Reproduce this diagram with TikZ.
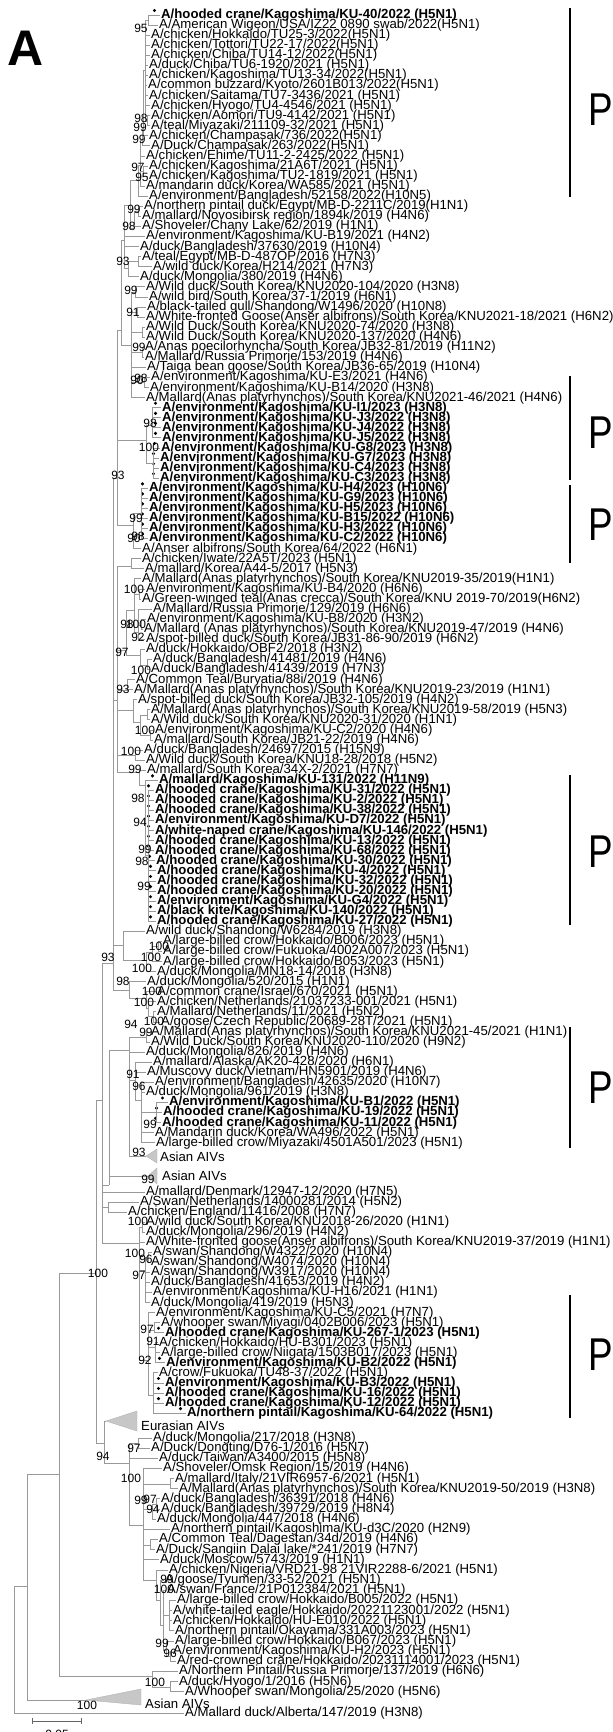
\documentclass[tikz,border=0pt]{standalone}
\usepackage{fontspec}
\setmainfont{Liberation Sans}
\usepackage{graphicx}

\begin{document}
\begin{tikzpicture}[x=1pt, y=-1pt,
    leaf/.style={anchor=west, inner sep=0pt, inner xsep=1pt, font=\fontsize{13.2}{13}\selectfont},
    kul/.style={leaf, font=\fontsize{13.2}{13}\selectfont\bfseries},
    boot/.style={inner sep=0pt, font=\fontsize{12}{12}\selectfont},
    br/.style={draw=black!40, line width=0.9pt},
    clade/.style={fill=black!22, draw=black!30, line width=0.4pt},
    bar/.style={line width=2.6pt},
    tag/.style={inner sep=0pt, font=\fontsize{46}{46}\selectfont}
  ]
  \useasboundingbox (0,0) rectangle (613,1732);

  \node[inner sep=0pt, font=\fontsize{50}{50}\selectfont\bfseries] (panel) at (26,48) {A};

  % --- taxa, top to bottom
  \node[kul] (l1) at (160,15) {A/hooded crane/Kagoshima/KU-40/2022 (H5N1)};
  \node[leaf] (l2) at (158,25.1) {A/American Wigeon/USA/IZ22 0890 swab/2022(H5N1)};
  \node[leaf] (l3) at (150,35.1) {A/chicken/Hokkaido/TU25-3/2022(H5N1)};
  \node[leaf] (l4) at (150,45.2) {A/chicken/Tottori/TU22-17/2022(H5N1)};
  \node[leaf] (l5) at (150,55.3) {A/chicken/Chiba/TU14-12/2022(H5N1)};
  \node[leaf] (l6) at (148,65.4) {A/duck/Chiba/TU6-1920/2021 (H5N1)};
  \node[leaf] (l7) at (148,75.4) {A/chicken/Kagoshima/TU13-34/2022(H5N1)};
  \node[leaf] (l8) at (147,85.5) {A/common buzzard/Kyoto/2601B013/2022(H5N1)};
  \node[leaf] (l9) at (148,95.6) {A/chicken/Saitama/TU7-3436/2021 (H5N1)};
  \node[leaf] (l10) at (150,105.6) {A/chicken/Hyogo/TU4-4546/2021 (H5N1)};
  \node[leaf] (l11) at (150,115.7) {A/chicken/Aomori/TU9-4142/2021 (H5N1)};
  \node[leaf] (l12) at (150,125.8) {A/teal/Miyazaki/211109-32/2021 (H5N1)};
  \node[leaf] (l13) at (148,135.8) {A/chicken/Champasak/736/2022(H5N1)};
  \node[leaf] (l14) at (150,145.9) {A/Duck/Champasak/263/2022(H5N1)};
  \node[leaf] (l15) at (145,156) {A/chicken/Ehime/TU11-2-2425/2022 (H5N1)};
  \node[leaf] (l16) at (148,166.1) {A/chicken/Kagoshima/21A6T/2021 (H5N1)};
  \node[leaf] (l17) at (148,176.1) {A/chicken/Kagoshima/TU2-1819/2021 (H5N1)};
  \node[leaf] (l18) at (145,186.2) {A/mandarin duck/Korea/WA585/2021 (H5N1)};
  \node[leaf] (l19) at (148,196.3) {A/environment/Bangladesh/52158/2022(H10N5)};
  \node[leaf] (l20) at (143,206.3) {A/northern pintail duck/Egypt/MB-D-2211C/2019(H1N1)};
  \node[leaf] (l21) at (141,216.4) {A/mallard/Novosibirsk region/1894k/2019 (H4N6)};
  \node[leaf] (l22) at (141,226.5) {A/Shoveler/Chany Lake/62/2019 (H1N1)};
  \node[leaf] (l23) at (145,236.5) {A/environment/Kagoshima/KU-B19/2021 (H4N2)};
  \node[leaf] (l24) at (139,246.6) {A/duck/Bangladesh/37630/2019 (H10N4)};
  \node[leaf] (l25) at (141,256.7) {A/teal/Egypt/MB-D-487OP/2016 (H7N3)};
  \node[leaf] (l26) at (152,266.8) {A/wild duck/Korea/H214/2021 (H7N3)};
  \node[leaf] (l27) at (139,276.8) {A/duck/Mongolia/380/2019 (H4N6)};
  \node[leaf] (l28) at (145,286.9) {A/Wild duck/South Korea/KNU2020-104/2020 (H3N8)};
  \node[leaf] (l29) at (148,297) {A/wild bird/South Korea/37-1/2019 (H6N1)};
  \node[leaf] (l30) at (146,307) {A/black-tailed gull/Shandong/W1496/2020 (H10N8)};
  \node[leaf] (l31) at (145,317.1) {A/White-fronted Goose(Anser albifrons)/South Korea/KNU2021-18/2021 (H6N2)};
  \node[leaf] (l32) at (145,327.2) {A/Wild Duck/South Korea/KNU2020-74/2020 (H3N8)};
  \node[leaf] (l33) at (145,337.2) {A/Wild Duck/South Korea/KNU2020-137/2020 (H4N6)};
  \node[leaf] (l34) at (144,347.3) {A/Anas poecilorhyncha/South Korea/JB32-81/2019 (H11N2)};
  \node[leaf] (l35) at (144,357.4) {A/Mallard/Russia Primorje/153/2019 (H4N6)};
  \node[leaf] (l36) at (146,367.5) {A/Taiga bean goose/South Korea/JB36-65/2019 (H10N4)};
  \node[leaf] (l37) at (150,377.5) {A/environment/Kagoshima/KU-E3/2021 (H4N6)};
  \node[leaf] (l38) at (149,387.6) {A/environment/Kagoshima/KU-B14/2020 (H3N8)};
  \node[leaf] (l39) at (145,397.7) {A/Mallard(Anas platyrhynchos)/South Korea/KNU2021-46/2021 (H4N6)};
  \node[kul] (l40) at (161,407.7) {A/environment/Kagoshima/KU-I1/2023 (H3N8)};
  \node[kul] (l41) at (161,417.8) {A/environment/Kagoshima/KU-J3/2022 (H3N8)};
  \node[kul] (l42) at (161,427.9) {A/environment/Kagoshima/KU-J4/2022 (H3N8)};
  \node[kul] (l43) at (161,437.9) {A/environment/Kagoshima/KU-J5/2022 (H3N8)};
  \node[kul] (l44) at (160,448) {A/environment/Kagoshima/KU-G8/2023 (H3N8)};
  \node[kul] (l45) at (159,458.1) {A/environment/Kagoshima/KU-G7/2023 (H3N8)};
  \node[kul] (l46) at (159,468.2) {A/environment/Kagoshima/KU-C4/2023 (H3N8)};
  \node[kul] (l47) at (159,478.2) {A/environment/Kagoshima/KU-C3/2023 (H3N8)};
  \node[kul] (l48) at (148,488.3) {A/environment/Kagoshima/KU-H4/2023 (H10N6)};
  \node[kul] (l49) at (148,498.4) {A/environment/Kagoshima/KU-G9/2023 (H10N6)};
  \node[kul] (l50) at (148,508.4) {A/environment/Kagoshima/KU-H5/2023 (H10N6)};
  \node[kul] (l51) at (148,518.5) {A/environment/Kagoshima/KU-B15/2022 (H10N6)};
  \node[kul] (l52) at (148,528.6) {A/environment/Kagoshima/KU-H3/2022 (H10N6)};
  \node[kul] (l53) at (148,538.6) {A/environment/Kagoshima/KU-C2/2022 (H10N6)};
  \node[leaf] (l54) at (141,548.7) {A/Anser albifrons/South Korea/64/2022 (H6N1)};
  \node[leaf] (l55) at (141,558.8) {A/chicken/Iwate/22A5T/2023 (H5N1)};
  \node[leaf] (l56) at (144,568.9) {A/mallard/Korea/A44-5/2017 (H5N3)};
  \node[leaf] (l57) at (141,578.9) {A/Mallard(Anas platyrhynchos)/South Korea/KNU2019-35/2019(H1N1)};
  \node[leaf] (l58) at (145,589) {A/environment/Kagoshima/KU-B4/2020 (H6N6)};
  \node[leaf] (l59) at (141,599.1) {A/Green-winged teal(Anas crecca)/South Korea/KNU 2019-70/2019(H6N2)};
  \node[leaf] (l60) at (152,609.1) {A/Mallard/Russia Primorje/129/2019 (H6N6)};
  \node[leaf] (l61) at (146,619.2) {A/environment/Kagoshima/KU-B8/2020 (H3N2)};
  \node[leaf] (l62) at (143,629.3) {A/Mallard (Anas platyrhynchos)/South Korea/KNU2019-47/2019 (H4N6)};
  \node[leaf] (l63) at (145,639.3) {A/spot-billed duck/South Korea/JB31-86-90/2019 (H6N2)};
  \node[leaf] (l64) at (145,649.4) {A/duck/Hokkaido/OBF2/2018 (H3N2)};
  \node[leaf] (l65) at (152,659.5) {A/duck/Bangladesh/41481/2019 (H4N6)};
  \node[leaf] (l66) at (150,669.5) {A/duck/Bangladesh/41439/2019 (H7N3)};
  \node[leaf] (l67) at (135,679.6) {A/Common Teal/Buryatia/88i/2019 (H4N6)};
  \node[leaf] (l68) at (133,689.7) {A/Mallard(Anas platyrhynchos)/South Korea/KNU2019-23/2019 (H1N1)};
  \node[leaf] (l69) at (137,699.8) {A/spot-billed duck/South Korea/JB32-105/2019 (H4N2)};
  \node[leaf] (l70) at (150,709.8) {A/Mallard(Anas platyrhynchos)/South Korea/KNU2019-58/2019 (H5N3)};
  \node[leaf] (l71) at (150,719.9) {A/Wild duck/South Korea/KNU2020-31/2020 (H1N1)};
  \node[leaf] (l72) at (154,730) {A/environment/Kagoshima/KU-C2/2020 (H4N6)};
  \node[leaf] (l73) at (153,740) {A/mallard/South Korea/JB21-22/2019 (H4N6)};
  \node[leaf] (l74) at (143,750.1) {A/duck/Bangladesh/24697/2015 (H15N9)};
  \node[leaf] (l75) at (145,760.2) {A/Wild duck/South Korea/KNU18-28/2018 (H5N2)};
  \node[leaf] (l76) at (146,770.2) {A/mallard/South Korea/34X-2/2021 (H7N7)};
  \node[kul] (l77) at (158,780.3) {A/mallard/Kagoshima/KU-131/2022 (H11N9)};
  \node[kul] (l78) at (154,790.4) {A/hooded crane/Kagoshima/KU-31/2022 (H5N1)};
  \node[kul] (l79) at (154,800.5) {A/hooded crane/Kagoshima/KU-2/2022 (H5N1)};
  \node[kul] (l80) at (154,810.5) {A/hooded crane/Kagoshima/KU-38/2022 (H5N1)};
  \node[kul] (l81) at (154,820.6) {A/environment/Kagoshima/KU-D7/2022 (H5N1)};
  \node[kul] (l82) at (154,830.7) {A/white-naped crane/Kagoshima/KU-146/2022 (H5N1)};
  \node[kul] (l83) at (154,840.7) {A/hooded crane/Kagoshima/KU-13/2022 (H5N1)};
  \node[kul] (l84) at (154,850.8) {A/hooded crane/Kagoshima/KU-68/2022 (H5N1)};
  \node[kul] (l85) at (155,860.9) {A/hooded crane/Kagoshima/KU-30/2022 (H5N1)};
  \node[kul] (l86) at (156,870.9) {A/hooded crane/Kagoshima/KU-4/2022 (H5N1)};
  \node[kul] (l87) at (156,881) {A/hooded crane/Kagoshima/KU-32/2022 (H5N1)};
  \node[kul] (l88) at (156,891.1) {A/hooded crane/Kagoshima/KU-20/2022 (H5N1)};
  \node[kul] (l89) at (156,901.2) {A/environment/Kagoshima/KU-G4/2022 (H5N1)};
  \node[kul] (l90) at (156,911.2) {A/black kite/Kagoshima/KU-140/2022 (H5N1)};
  \node[kul] (l91) at (156,921.3) {A/hooded crane/Kagoshima/KU-27/2022 (H5N1)};
  \node[leaf] (l92) at (145,931.4) {A/wild duck/Shandong/W6284/2019 (H3N8)};
  \node[leaf] (l93) at (162,941.4) {A/large-billed crow/Hokkaido/B006/2023 (H5N1)};
  \node[leaf] (l94) at (162,951.5) {A/large-billed crow/Fukuoka/4002A007/2023 (H5N1)};
  \node[leaf] (l95) at (162,961.6) {A/large-billed crow/Hokkaido/B053/2023 (H5N1)};
  \node[leaf] (l96) at (156,971.6) {A/duck/Mongolia/MN18-14/2018 (H3N8)};
  \node[leaf] (l97) at (146,981.7) {A/duck/Mongolia/520/2015 (H1N1)};
  \node[leaf] (l98) at (156,991.8) {A/common crane/Israel/670/2021 (H5N1)};
  \node[leaf] (l99) at (156,1001.8) {A/chicken/Netherlands/21037233-001/2021 (H5N1)};
  \node[leaf] (l100) at (156,1011.9) {A/Mallard/Netherlands/11/2021 (H5N2)};
  \node[leaf] (l101) at (160,1022) {A/goose/Czech Republic/20689-28T/2021 (H5N1)};
  \node[leaf] (l102) at (150,1032.1) {A/Mallard(Anas platyrhynchos)/South Korea/KNU2021-45/2021 (H1N1)};
  \node[leaf] (l103) at (150,1042.1) {A/Wild Duck/South Korea/KNU2020-110/2020 (H9N2)};
  \node[leaf] (l104) at (145,1052.2) {A/duck/Mongolia/826/2019 (H4N6)};
  \node[leaf] (l105) at (152,1062.3) {A/mallard/Alaska/AK20-428/2020 (H6N1)};
  \node[leaf] (l106) at (146,1072.3) {A/Muscovy duck/Vietnam/HN5901/2019 (H4N6)};
  \node[leaf] (l107) at (154,1082.4) {A/environment/Bangladesh/42635/2020 (H10N7)};
  \node[leaf] (l108) at (145,1092.5) {A/duck/Mongolia/961/2019 (H3N8)};
  \node[kul] (l109) at (168,1102.5) {A/environment/Kagoshima/KU-B1/2022 (H5N1)};
  \node[kul] (l110) at (162,1112.6) {A/hooded crane/Kagoshima/KU-19/2022 (H5N1)};
  \node[kul] (l111) at (161,1122.7) {A/hooded crane/Kagoshima/KU-11/2022 (H5N1)};
  \node[leaf] (l112) at (154,1132.8) {A/Mandarin duck/Korea/WA496/2022 (H5N1)};
  \node[leaf] (l113) at (155,1142.8) {A/large-billed crow/Miyazaki/4501A501/2023 (H5N1)};
  \node[leaf] (a1) at (159,1157) {Asian AIVs};
  \node[leaf] (a2) at (161,1176) {Asian AIVs};
  \node[leaf] (l116) at (145,1192) {A/mallard/Denmark/12947-12/2020 (H7N5)};
  \node[leaf] (l117) at (139,1202) {A/Swan/Netherlands/14000281/2014 (H5N2)};
  \node[leaf] (l118) at (127,1212.1) {A/chicken/England/11416/2008 (H7N7)};
  \node[leaf] (l119) at (145,1222.2) {A/wild duck/South Korea/KNU2018-26/2020 (H1N1)};
  \node[leaf] (l120) at (145,1232.2) {A/duck/Mongolia/296/2019 (H4N2)};
  \node[leaf] (l121) at (145,1242.3) {A/White-fronted goose(Anser albifrons)/South Korea/KNU2019-37/2019 (H1N1)};
  \node[leaf] (l122) at (152,1252.3) {A/swan/Shandong/W4322/2020 (H10N4)};
  \node[leaf] (l123) at (150,1262.4) {A/swan/Shandong/W4074/2020 (H10N4)};
  \node[leaf] (l124) at (150,1272.4) {A/swan/Shandong/W3917/2020 (H10N4)};
  \node[leaf] (l125) at (150,1282.5) {A/duck/Bangladesh/41653/2019 (H4N2)};
  \node[leaf] (l126) at (152,1292.5) {A/environment/Kagoshima/KU-H16/2021 (H1N1)};
  \node[leaf] (l127) at (150,1302.6) {A/duck/Mongolia/419/2019 (H5N3)};
  \node[leaf] (l128) at (155,1312.6) {A/environment/Kagoshima/KU-C5/2021 (H7N7)};
  \node[leaf] (l129) at (160,1322.7) {A/whooper swan/Miyagi/0402B006/2023 (H5N1)};
  \node[kul] (l130) at (164,1332.7) {A/hooded crane/Kagoshima/KU-267-1/2023 (H5N1)};
  \node[leaf] (l131) at (158,1342.8) {A/chicken/Hokkaido/HU-B301/2023 (H5N1)};
  \node[leaf] (l132) at (160,1352.8) {A/large-billed crow/Niigata/1503B017/2023 (H5N1)};
  \node[kul] (l133) at (165,1362.9) {A/environment/Kagoshima/KU-B2/2022 (H5N1)};
  \node[leaf] (l134) at (158,1372.9) {A/crow/Fukuoka/TU48-37/2022 (H5N1)};
  \node[kul] (l135) at (164,1383) {A/environment/Kagoshima/KU-B3/2022 (H5N1)};
  \node[kul] (l136) at (164,1393) {A/hooded crane/Kagoshima/KU-16/2022 (H5N1)};
  \node[kul] (l137) at (164,1403.1) {A/hooded crane/Kagoshima/KU-12/2022 (H5N1)};
  \node[kul] (l138) at (186,1413.1) {A/northern pintail/Kagoshima/KU-64/2022 (H5N1)};
  \node[leaf] (a3) at (140,1426) {Eurasian AIVs};
  \node[leaf] (l140) at (152,1438) {A/duck/Mongolia/217/2018 (H3N8)};
  \node[leaf] (l141) at (150,1448.2) {A/Duck/Dongting/D76-1/2016 (H5N7)};
  \node[leaf] (l142) at (158,1458.3) {A/duck/Taiwan/A3400/2015 (H5N8)};
  \node[leaf] (l143) at (162,1468.5) {A/Shoveler/Omsk Region/15/2019 (H4N6)};
  \node[leaf] (l144) at (174,1478.6) {A/mallard/Italy/21VIR6957-6/2021 (H5N1)};
  \node[leaf] (l145) at (178,1488.8) {A/Mallard(Anas platyrhynchos)/South Korea/KNU2019-50/2019 (H3N8)};
  \node[leaf] (l146) at (160,1498.9) {A/duck/Bangladesh/36391/2018 (H4N6)};
  \node[leaf] (l147) at (160,1509.1) {A/duck/Bangladesh/39729/2019 (H8N4)};
  \node[leaf] (l148) at (156,1519.2) {A/duck/Mongolia/447/2018 (H4N6)};
  \node[leaf] (l149) at (170,1529.4) {A/northern pintail/Kagoshima/KU-d3C/2020 (H2N9)};
  \node[leaf] (l150) at (158,1539.5) {A/Common Teal/Dagestan/34d/2019 (H4N6)};
  \node[leaf] (l151) at (155,1549.7) {A/Duck/Sangiin Dalai lake/*241/2019 (H7N7)};
  \node[leaf] (l152) at (159,1559.8) {A/duck/Moscow/5743/2019 (H1N1)};
  \node[leaf] (l153) at (168,1570) {A/chicken/Nigeria/VRD21-98 21VIR2288-6/2021 (H5N1)};
  \node[leaf] (l154) at (164,1580.1) {A/goose/Tyumen/33-52/2021 (H5N1)};
  \node[leaf] (l155) at (166,1590.3) {A/swan/France/21P012384/2021 (H5N1)};
  \node[leaf] (l156) at (176,1600.4) {A/large-billed crow/Hokkaido/B005/2022 (H5N1)};
  \node[leaf] (l157) at (172,1610.6) {A/white-tailed eagle/Hokkaido/20221123001/2022 (H5N1)};
  \node[leaf] (l158) at (172,1620.7) {A/chicken/Hokkaido/HU-E010/2022 (H5N1)};
  \node[leaf] (l159) at (174,1630.9) {A/northern pintail/Okayama/331A003/2023 (H5N1)};
  \node[leaf] (l160) at (174,1641) {A/large-billed crow/Hokkaido/B067/2023 (H5N1)};
  \node[leaf] (l161) at (172,1651.2) {A/environment/Kagoshima/KU-H2/2023 (H5N1)};
  \node[leaf] (l162) at (176,1661.3) {A/red-crowned crane/Hokkaido/20231114001/2023 (H5N1)};
  \node[leaf] (l163) at (178,1671.5) {A/Northern Pintail/Russia Primorje/137/2019 (H6N6)};
  \node[leaf] (l164) at (178,1681.6) {A/duck/Hyogo/1/2016 (H5N6)};
  \node[leaf] (l165) at (184,1691.8) {A/Whooper swan/Mongolia/25/2020 (H5N6)};
  \node[leaf] (a4) at (144,1704) {Asian AIVs};
  \node[leaf] (l167) at (184,1713) {A/Mallard duck/Alberta/147/2019 (H3N8)};

  % own strains
  \foreach \k in {1,40,41,42,43,44,45,46,47,48,49,50,51,52,53,77,78,79,80,81,82,83,84,85,86,87,88,89,90,91,109,110,111,130,133,135,136,137,138}
    \fill ([shift={(-5.5pt,4.5pt)}]l\k.west) circle (1.7pt);

  % --- internal nodes
  \coordinate (n1) at (148,20);   \coordinate (n2) at (145,70);   \coordinate (n3) at (147,121);
  \coordinate (n4) at (143,128);  \coordinate (n5) at (142,140);  \coordinate (n6) at (143,171);
  \coordinate (n7) at (140,165);  \coordinate (n8) at (138,180);  \coordinate (n9) at (138,211);
  \coordinate (n10) at (134,228); \coordinate (n11) at (130,205); \coordinate (n12) at (124,240);
  \coordinate (n13) at (128,268); \coordinate (n14) at (138,261); \coordinate (n15) at (135,292);
  \coordinate (n16) at (137,312); \coordinate (n17) at (142,332); \coordinate (n18) at (142,352);
  \coordinate (n19) at (144,382); \coordinate (n20) at (131,345); \coordinate (n21) at (121,330);
  \coordinate (n22) at (152,425); \coordinate (n23) at (153,463); \coordinate (n24) at (146,440);
  \coordinate (n25) at (141,513); \coordinate (n26) at (133,525); \coordinate (n27) at (117,478);
  \coordinate (n28) at (131,566); \coordinate (n29) at (139,594); \coordinate (n30) at (141,625);
  \coordinate (n31) at (138,632); \coordinate (n32) at (134,610); \coordinate (n33) at (147,665);
  \coordinate (n34) at (140,655); \coordinate (n35) at (126,650); \coordinate (n36) at (127,690);
  \coordinate (n37) at (147,715); \coordinate (n38) at (150,735); \coordinate (n39) at (140,722);
  \coordinate (n40) at (133,710); \coordinate (n41) at (135,755); \coordinate (n42) at (148,855);
  \coordinate (n43) at (145,785); \coordinate (n44) at (139,772); \coordinate (n45) at (117,700);
  \coordinate (n46) at (158,946); \coordinate (n47) at (152,952); \coordinate (n48) at (146,960);
  \coordinate (n49) at (123,945); \coordinate (n50) at (153,1016); \coordinate (n51) at (148,1008);
  \coordinate (n52) at (146,998); \coordinate (n53) at (129,990); \coordinate (n54) at (113,963);
  \coordinate (n55) at (146,1037); \coordinate (n56) at (156,1112); \coordinate (n57) at (141,1100);
  \coordinate (n58) at (135,1080); \coordinate (n59) at (129,1050); \coordinate (n60) at (109,1185);
  \coordinate (n61) at (108,1207); \coordinate (n62) at (142,1227); \coordinate (n63) at (148,1257);
  \coordinate (n64) at (145,1270); \coordinate (n65) at (154,1330); \coordinate (n66) at (155,1347);
  \coordinate (n67) at (153,1395); \coordinate (n68) at (148,1360); \coordinate (n69) at (139,1243);
  \coordinate (n70) at (102,1100); \coordinate (n71) at (138,1443); \coordinate (n72) at (170,1484);
  \coordinate (n73) at (156,1504); \coordinate (n74) at (152,1509); \coordinate (n75) at (150,1545);
  \coordinate (n76) at (170,1656); \coordinate (n77) at (166,1650); \coordinate (n78) at (169,1615);
  \coordinate (n79) at (163,1625); \coordinate (n80) at (160,1600); \coordinate (n81) at (156,1580);
  \coordinate (n82) at (143,1525); \coordinate (n83) at (129,1463); \coordinate (n84) at (104,1443);
  \coordinate (n85) at (96,1273);  \coordinate (n86) at (170,1687); \coordinate (n87) at (152,1676);
  \coordinate (n88) at (59,1474);  \coordinate (n89) at (27,1586);  \coordinate (n90) at (14,1650);

  % collapsed clades
  \coordinate (t1) at (146,1156); \coordinate (t2) at (148,1176);
  \coordinate (t3) at (106,1421); \coordinate (t4) at (86,1700);
  \fill[clade] (t1) -- (157,1149) -- (157,1163) -- cycle;
  \fill[clade] (t2) -- (157,1168) -- (157,1184) -- cycle;
  \fill[clade] (t3) -- (137,1411) -- (137,1431) -- cycle;
  \fill[clade] (t4) -- (141,1689) -- (141,1705) -- cycle;

  % --- branches
  \foreach \c in {l1.west,l2.west} \draw[br] (n1) |- (\c);
  \foreach \c in {n1,l3.west,l4.west,l5.west,l6.west,l7.west,l8.west,l9.west,l10.west,n3} \draw[br] (n2) |- (\c);
  \foreach \c in {l11.west,l12.west} \draw[br] (n3) |- (\c);
  \foreach \c in {n2,l13.west} \draw[br] (n4) |- (\c);
  \foreach \c in {n4,l14.west} \draw[br] (n5) |- (\c);
  \foreach \c in {l16.west,l17.west} \draw[br] (n6) |- (\c);
  \foreach \c in {n5,l15.west,n6,l18.west} \draw[br] (n7) |- (\c);
  \foreach \c in {n7,l19.west} \draw[br] (n8) |- (\c);
  \foreach \c in {l20.west,l21.west} \draw[br] (n9) |- (\c);
  \foreach \c in {n9,l22.west} \draw[br] (n10) |- (\c);
  \foreach \c in {n8,n10} \draw[br] (n11) |- (\c);
  \foreach \c in {l25.west,l26.west} \draw[br] (n14) |- (\c);
  \foreach \c in {n14,l27.west} \draw[br] (n13) |- (\c);
  \foreach \c in {n11,l23.west,l24.west,n13} \draw[br] (n12) |- (\c);
  \foreach \c in {l28.west,l29.west} \draw[br] (n15) |- (\c);
  \foreach \c in {l30.west,l31.west} \draw[br] (n16) |- (\c);
  \foreach \c in {l32.west,l33.west} \draw[br] (n17) |- (\c);
  \foreach \c in {l34.west,l35.west} \draw[br] (n18) |- (\c);
  \foreach \c in {l37.west,l38.west} \draw[br] (n19) |- (\c);
  \foreach \c in {n15,n16,n17,n18,l36.west,n19,l39.west} \draw[br] (n20) |- (\c);
  \foreach \c in {n12,n20} \draw[br] (n21) |- (\c);
  \foreach \k in {40,...,43} \draw[br] (n22) |- (l\k.west);
  \foreach \k in {44,...,47} \draw[br] (n23) |- (l\k.west);
  \foreach \c in {n22,n23} \draw[br] (n24) |- (\c);
  \foreach \k in {48,...,53} \draw[br] (n25) |- (l\k.west);
  \foreach \c in {n25,l54.west} \draw[br] (n26) |- (\c);
  \foreach \c in {n21,n24,n26} \draw[br] (n27) |- (\c);
  \foreach \c in {l55.west,l56.west} \draw[br] (n28) |- (\c);
  \foreach \c in {l58.west,l59.west} \draw[br] (n29) |- (\c);
  \foreach \c in {l61.west,l62.west} \draw[br] (n30) |- (\c);
  \foreach \c in {l60.west,n30,l63.west} \draw[br] (n31) |- (\c);
  \foreach \c in {l57.west,n29,n31} \draw[br] (n32) |- (\c);
  \foreach \c in {l65.west,l66.west} \draw[br] (n33) |- (\c);
  \foreach \c in {l64.west,n33} \draw[br] (n34) |- (\c);
  \foreach \c in {n32,n34} \draw[br] (n35) |- (\c);
  \foreach \c in {l67.west,l68.west} \draw[br] (n36) |- (\c);
  \foreach \c in {l70.west,l71.west} \draw[br] (n37) |- (\c);
  \foreach \c in {l72.west,l73.west} \draw[br] (n38) |- (\c);
  \foreach \c in {n37,n38} \draw[br] (n39) |- (\c);
  \foreach \c in {l69.west,n39} \draw[br] (n40) |- (\c);
  \foreach \c in {l74.west,l75.west} \draw[br] (n41) |- (\c);
  \foreach \k in {78,...,91} \draw[br] (n42) |- (l\k.west);
  \foreach \c in {l77.west,n42} \draw[br] (n43) |- (\c);
  \foreach \c in {l76.west,n43} \draw[br] (n44) |- (\c);
  \foreach \c in {n28,n35,n36,n40,n41,n44} \draw[br] (n45) |- (\c);
  \foreach \c in {l93.west,l94.west} \draw[br] (n46) |- (\c);
  \foreach \c in {n46,l95.west} \draw[br] (n47) |- (\c);
  \foreach \c in {n47,l96.west} \draw[br] (n48) |- (\c);
  \foreach \c in {l92.west,n48} \draw[br] (n49) |- (\c);
  \foreach \c in {l100.west,l101.west} \draw[br] (n50) |- (\c);
  \foreach \c in {l99.west,n50} \draw[br] (n51) |- (\c);
  \foreach \c in {l98.west,n51} \draw[br] (n52) |- (\c);
  \foreach \c in {l97.west,n52} \draw[br] (n53) |- (\c);
  \foreach \c in {n27,n45,n49,n53} \draw[br] (n54) |- (\c);
  \foreach \c in {l102.west,l103.west} \draw[br] (n55) |- (\c);
  \foreach \k in {109,110,111} \draw[br] (n56) |- (l\k.west);
  \foreach \c in {l107.west,l108.west,n56,l112.west,l113.west} \draw[br] (n57) |- (\c);
  \foreach \c in {l105.west,l106.west,n57} \draw[br] (n58) |- (\c);
  \foreach \c in {n55,l104.west,n58,t1} \draw[br] (n59) |- (\c);
  \foreach \c in {n59,t2} \draw[br] (n60) |- (\c);
  \foreach \c in {l117.west,l118.west} \draw[br] (n61) |- (\c);
  \foreach \c in {l119.west,l120.west} \draw[br] (n62) |- (\c);
  \foreach \c in {l122.west,l123.west} \draw[br] (n63) |- (\c);
  \foreach \c in {n63,l124.west,l125.west,l126.west,l127.west} \draw[br] (n64) |- (\c);
  \foreach \c in {l129.west,l130.west} \draw[br] (n65) |- (\c);
  \foreach \k in {131,132,133} \draw[br] (n66) |- (l\k.west);
  \foreach \k in {134,...,138} \draw[br] (n67) |- (l\k.west);
  \foreach \c in {l128.west,n65,n66,n67} \draw[br] (n68) |- (\c);
  \foreach \c in {n62,l121.west,n64,n68} \draw[br] (n69) |- (\c);
  \foreach \c in {n54,n60,l116.west,n61,n69} \draw[br] (n70) |- (\c);
  \foreach \c in {l140.west,l141.west} \draw[br] (n71) |- (\c);
  \foreach \c in {l144.west,l145.west} \draw[br] (n72) |- (\c);
  \foreach \c in {l146.west,l147.west} \draw[br] (n73) |- (\c);
  \foreach \c in {n73,l148.west} \draw[br] (n74) |- (\c);
  \foreach \c in {l150.west,l151.west} \draw[br] (n75) |- (\c);
  \foreach \c in {l161.west,l162.west} \draw[br] (n76) |- (\c);
  \foreach \c in {l160.west,n76} \draw[br] (n77) |- (\c);
  \foreach \k in {156,...,159} \draw[br] (n78) |- (l\k.west);
  \foreach \c in {l155.west,n78,n77} \draw[br] (n79) |- (\c);
  \foreach \c in {l154.west,n79} \draw[br] (n80) |- (\c);
  \foreach \c in {l153.west,n80} \draw[br] (n81) |- (\c);
  \foreach \c in {l143.west,n72,n74,l149.west,n75,l152.west,n81} \draw[br] (n82) |- (\c);
  \foreach \c in {n71,l142.west,n82} \draw[br] (n83) |- (\c);
  \foreach \c in {t3,n83} \draw[br] (n84) |- (\c);
  \foreach \c in {n70,n84} \draw[br] (n85) |- (\c);
  \foreach \c in {l164.west,l165.west} \draw[br] (n86) |- (\c);
  \foreach \c in {l163.west,n86} \draw[br] (n87) |- (\c);
  \foreach \c in {n85,n87} \draw[br] (n88) |- (\c);
  \foreach \c in {n88,t4} \draw[br] (n89) |- (\c);
  \foreach \c in {n89,l167.west} \draw[br] (n90) |- (\c);

  % bootstrap values
  \foreach \x/\y/\v [count=\i] in {141/28/95, 141/118/98, 140/127/99, 139/139/99, 138/167/97,
      142/177/95, 134/209/99, 129/226/98, 123/261/93, 131/290/99, 133/312/91, 139/347/99,
      137/380/90, 141/378/98, 150/423/98, 149/447/100, 118/475/93, 136/518/99, 134/538/90,
      138/536/98, 134/589/100, 127/624/98, 136/624/100, 138/637/92, 122/652/97, 141/670/100,
      123/689/93, 145/730/100, 131/751/100, 135/769/99, 138/798/98, 140/822/94, 145/849/99,
      142/861/98, 144/886/99, 159/946/100, 151/957/100, 108/957/93, 142/968/100, 123/981/98,
      152/991/100, 144/1002/100, 154/1021/100, 131/1024/94, 146/1032/99, 133/1074/91,
      139/1086/96, 150/1124/99, 139/1152/93, 148/1179/99, 138/1221/100, 135/1253/100,
      146/1259/96, 139/1275/97, 98/1273/100, 147/1329/97, 153/1341/91, 145/1360/92,
      134/1448/97, 103/1456/94, 131/1478/100, 141/1500/99, 150/1499/97, 153/1509/94,
      167/1579/99, 164/1589/100, 162/1643/99, 170/1653/96, 155/1682/100, 87/1705/100}
    \node[boot] (b\i) at (\x,\y) {\v};

  % group bars
  \draw[bar] (570,8) -- (570,197);
  \draw[bar] (570,376) -- (570,480);
  \draw[bar] (570,485) -- (570,563);
  \draw[bar] (570,775) -- (570,925);
  \draw[bar] (570,1027) -- (570,1148);
  \draw[bar] (570,1295) -- (570,1418);
  \foreach \y [count=\i] in {110,433,525,852,1088,1355}
    \node[tag] (p\i) at (601,\y) {\scalebox{0.8}[1]{P}};

  % scale bar
  \coordinate (s0) at (32,1721); \coordinate (s1) at (81,1721);
  \draw[br, draw=black!60] (s0) -- (s1);
  \draw[br, draw=black!60] (s0) ++(0,-3) -- ++(0,6);
  \draw[br, draw=black!60] (s1) ++(0,-3) -- ++(0,6);
  \node[boot] (sc) at (57,1734) {0.05};
\end{tikzpicture}
\end{document}
